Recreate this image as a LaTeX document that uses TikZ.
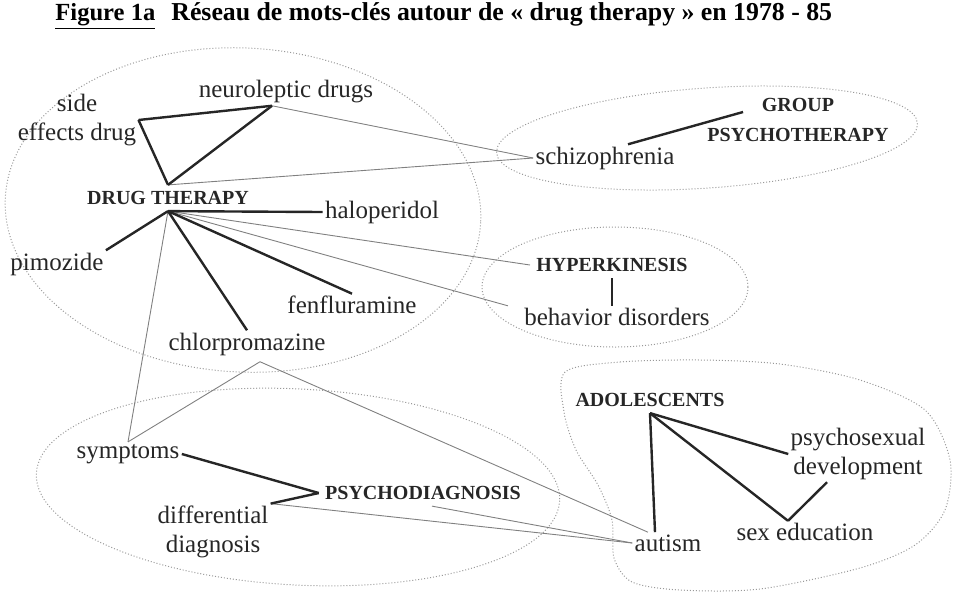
\documentclass[tikz,border=0pt]{standalone}
\usepackage{fontspec}
\setmainfont{Liberation Serif}

\begin{document}
\begin{tikzpicture}[
x=0.5pt, y=-0.5pt,
kw/.style={
  font=\fontsize{12.5}{14.5}\selectfont,
  text=black!85,
  inner sep=1pt,
  align=center
  },
hub/.style={
  font=\fontsize{10}{15}\selectfont\bfseries,
  text=black!85,
  inner sep=3pt,
  align=center
  },
strong/.style={line width=1.2pt, black!85},
weak/.style={line width=0.45pt, black!50},
region/.style={draw=black!40, densely dotted, line width=0.5pt}
]
\useasboundingbox (0,0) rectangle (953,591);

\node[anchor=west, inner sep=0, font=\fontsize{12.3}{14}\selectfont\bfseries] (title) at (55,16)
  {\underline{Figure 1a}\hspace{8pt}{\fontsize{12.9}{14}\selectfont Réseau de mots-clés autour de « drug therapy » en 1978 - 85}};

\draw[region, rotate around={-3:(243,210)}] (243,210) ellipse [x radius=238, y radius=162];
\draw[region, rotate around={4:(707,138)}] (707,138) ellipse [x radius=211, y radius=50];
\draw[region] (615,287) ellipse [x radius=133, y radius=60];
\draw[region, rotate around={-3:(298,487)}] (298,487) ellipse [x radius=262, y radius=98];
\draw[region] plot[smooth cycle] coordinates {
  (565,372) (620,362) (700,360) (780,364) (860,380) (925,410) (950,460)
  (945,510) (915,545) (860,568) (760,589) (680,590) (632,582) (614,558)
  (612,520) (598,485) (576,450) (564,412)};

\node[kw] (side) at (77,120) {side\\effects drug};
\node[kw] (neuro) at (286,92) {neuroleptic drugs};
\node[hub] (dt) at (168,198) {DRUG THERAPY};
\node[kw] (halo) at (382,212) {haloperidol};
\node[kw] (pimo) at (57,264) {pimozide};
\node[kw] (fenf) at (352,305) {fenfluramine};
\node[kw] (chlor) at (247,344) {chlorpromazine};
\node[kw] (schizo) at (605,158) {schizophrenia};
\node[hub] (group) at (798,120) {GROUP\\PSYCHOTHERAPY};
\node[hub] (hyper) at (612,265) {HYPERKINESIS};
\node[kw] (behav) at (617,317) {behavior disorders};
\node[kw] (sympt) at (128,454) {symptoms};
\node[hub] (psydiag) at (423,493) {PSYCHODIAGNOSIS};
\node[kw] (diffdiag) at (213,532) {differential\\diagnosis};
\node[kw] (autism) at (668,543) {autism};
\node[hub] (adol) at (650,400) {ADOLESCENTS};
\node[kw] (psysex) at (858,454) {psychosexual\\development};
\node[kw] (sexed) at (805,532) {sex education};

\coordinate (neurofoot) at ([xshift=-7pt]neuro.south);
\coordinate (chlorfoot) at ([xshift=6.5pt,yshift=-2pt]chlor.south);
\coordinate (schizotop) at ([xshift=11.5pt]schizo.north);
\coordinate (groupend) at ([xshift=21pt,yshift=4pt]group.west);
\coordinate (behavend) at ([xshift=-7pt]behav.north west);
\coordinate (psydiagfoot) at ([xshift=4.5pt]psydiag.south);
\coordinate (autismtop) at ([xshift=-10pt]autism.north);
\coordinate (autismtip) at ([xshift=-6.5pt]autism.north);
\coordinate (devfoot) at ([xshift=-15.5pt]psysex.south);
\coordinate (sexedtop) at ([xshift=-8.5pt]sexed.north);

\path[weak]
	(dt.north) edge (schizo.west)
	(neurofoot) edge (schizo.west)
	(dt.south) edge (hyper.west)
	(dt.south) edge (behavend)
	(dt.south) edge (sympt.north)
	(chlorfoot) edge (sympt.north)
	(chlorfoot) edge (autismtop)
	(diffdiag.north east) edge (autism.west)
	(psydiagfoot) edge (autism.west);
\path[strong]
	(side.east) edge (neurofoot)
	(side.east) edge (dt.north)
	(neurofoot) edge (dt.north)
	(dt.south) edge (halo.west)
	(dt.south) edge (pimo.north east)
	(dt.south) edge (fenf.north)
	(dt.south) edge (chlor.north)
	(schizotop) edge (groupend)
	(hyper.south) edge (hyper.south |- behav.north)
	(sympt.east) edge (psydiag.west)
	(diffdiag.north east) edge (psydiag.west)
	(adol.south) edge (autismtip)
	(adol.south) edge (psysex.west)
	(adol.south) edge (sexedtop)
	(sexedtop) edge (devfoot);
\end{tikzpicture}
\end{document}
